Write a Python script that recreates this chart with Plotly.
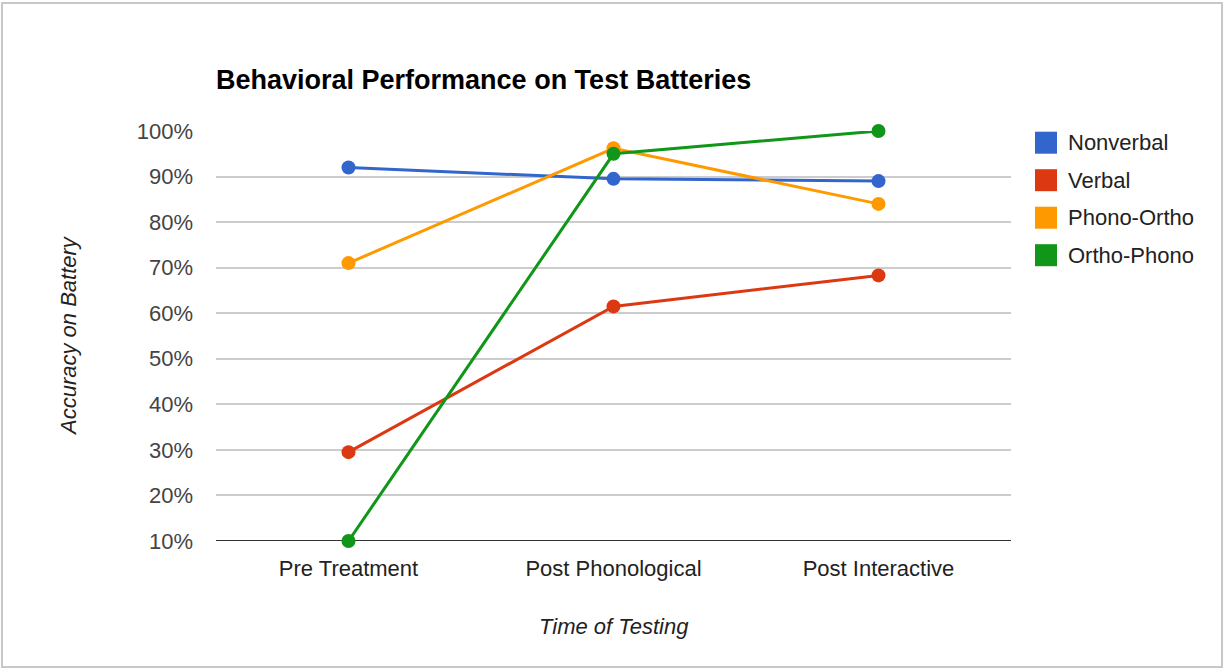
import plotly.graph_objs as go

# data
times = ["Pre Treatment", "Post Phonological", "Post Interactive"]
nonverbal = [92, 89.5, 89]
verbal = [29.5, 61.5, 68.3]
phono_ortho = [71, 96.2, 84]
ortho_phono = [10, 95, 100]

names = ["Nonverbal", "Verbal", "Phono-Ortho", "Ortho-Phono"]
colors = ["#3366cc", "#dc3912", "#ff9900", "#109618"]
series = [nonverbal, verbal, phono_ortho, ortho_phono]

font = "Liberation Sans, Arial, sans-serif"
fs = 22

fig = go.Figure()
for name, col, vals in zip(names, colors, series):
    fig.add_trace(go.Scatter(
        x=times, y=vals, name=name, mode="lines+markers",
        line=dict(color=col, width=3),
        marker=dict(color=col, size=14),
        cliponaxis=False, showlegend=False
    ))

# margins give plot area 216..1011 x 131..541
L, R, T, B = 216, 214, 131, 128
W, H = 1225, 669
pw, ph = W - L - R, H - T - B


def px(x):
    return (x - L) / pw


def py(y):
    return (H - B - y) / ph


shapes = [
    # outer frame
    dict(type="rect", xref="paper", yref="paper",
         x0=px(2), x1=px(1222), y0=py(3), y1=py(667),
         line=dict(color="#c8c8c8", width=2), fillcolor="rgba(0,0,0,0)", layer="below"),
]
annotations = []

# legend on the right, drawn from the series names/colours
for i, (name, col) in enumerate(zip(names, colors)):
    yc = 142.7 + i * 37.5
    shapes.append(dict(type="rect", xref="paper", yref="paper",
                       x0=px(1035), x1=px(1057), y0=py(yc - 11), y1=py(yc + 11),
                       line=dict(color=col, width=0), fillcolor=col))
    annotations.append(dict(text=name, xref="paper", yref="paper",
                            x=px(1066), y=py(yc), xanchor="left", yanchor="middle",
                            showarrow=False, font=dict(family=font, size=fs, color="#222")))

# axis titles
annotations.append(dict(text="<i>Accuracy on Battery</i>", xref="paper", yref="paper",
                        x=px(68), y=py(336), textangle=-90, showarrow=False,
                        xanchor="center", yanchor="middle",
                        font=dict(family=font, size=fs, color="#222")))
annotations.append(dict(text="<i>Time of Testing</i>", xref="paper", yref="paper",
                        x=px(614), y=py(626), showarrow=False,
                        xanchor="center", yanchor="middle",
                        font=dict(family=font, size=fs, color="#222")))

fig.update_layout(
    width=W, height=H,
    margin=dict(l=L, r=R, t=T, b=B),
    paper_bgcolor="white", plot_bgcolor="white",
    title=dict(text="<b>Behavioral Performance on Test Batteries</b>",
               xref="paper", x=0, xanchor="left",
               yref="container", y=1 - 80 / H, yanchor="middle",
               font=dict(family=font, size=27, color="#000")),
    font=dict(family=font, size=fs, color="#444"),
    shapes=shapes, annotations=annotations,
    xaxis=dict(range=[-0.5, 2.5], showgrid=False, zeroline=False,
               showline=False, ticks="", ticklabelstandoff=12,
               tickfont=dict(family=font, size=fs, color="#222")),
    yaxis=dict(range=[10, 100], dtick=10, ticksuffix="%",
               showgrid=True, gridcolor="#cccccc", gridwidth=1.5,
               zeroline=False, showline=False, ticks="", ticklabelstandoff=22,
               tickfont=dict(family=font, size=fs, color="#444")),
)

# dark baseline along the bottom of the plot
fig.add_hline(y=10, line=dict(color="#333333", width=2), layer="below")

# drop the page's default body margin so the figure sits at 0,0
fig.write_html("out.html", config={"displayModeBar": False},
               post_script="document.body.style.margin='0';")
